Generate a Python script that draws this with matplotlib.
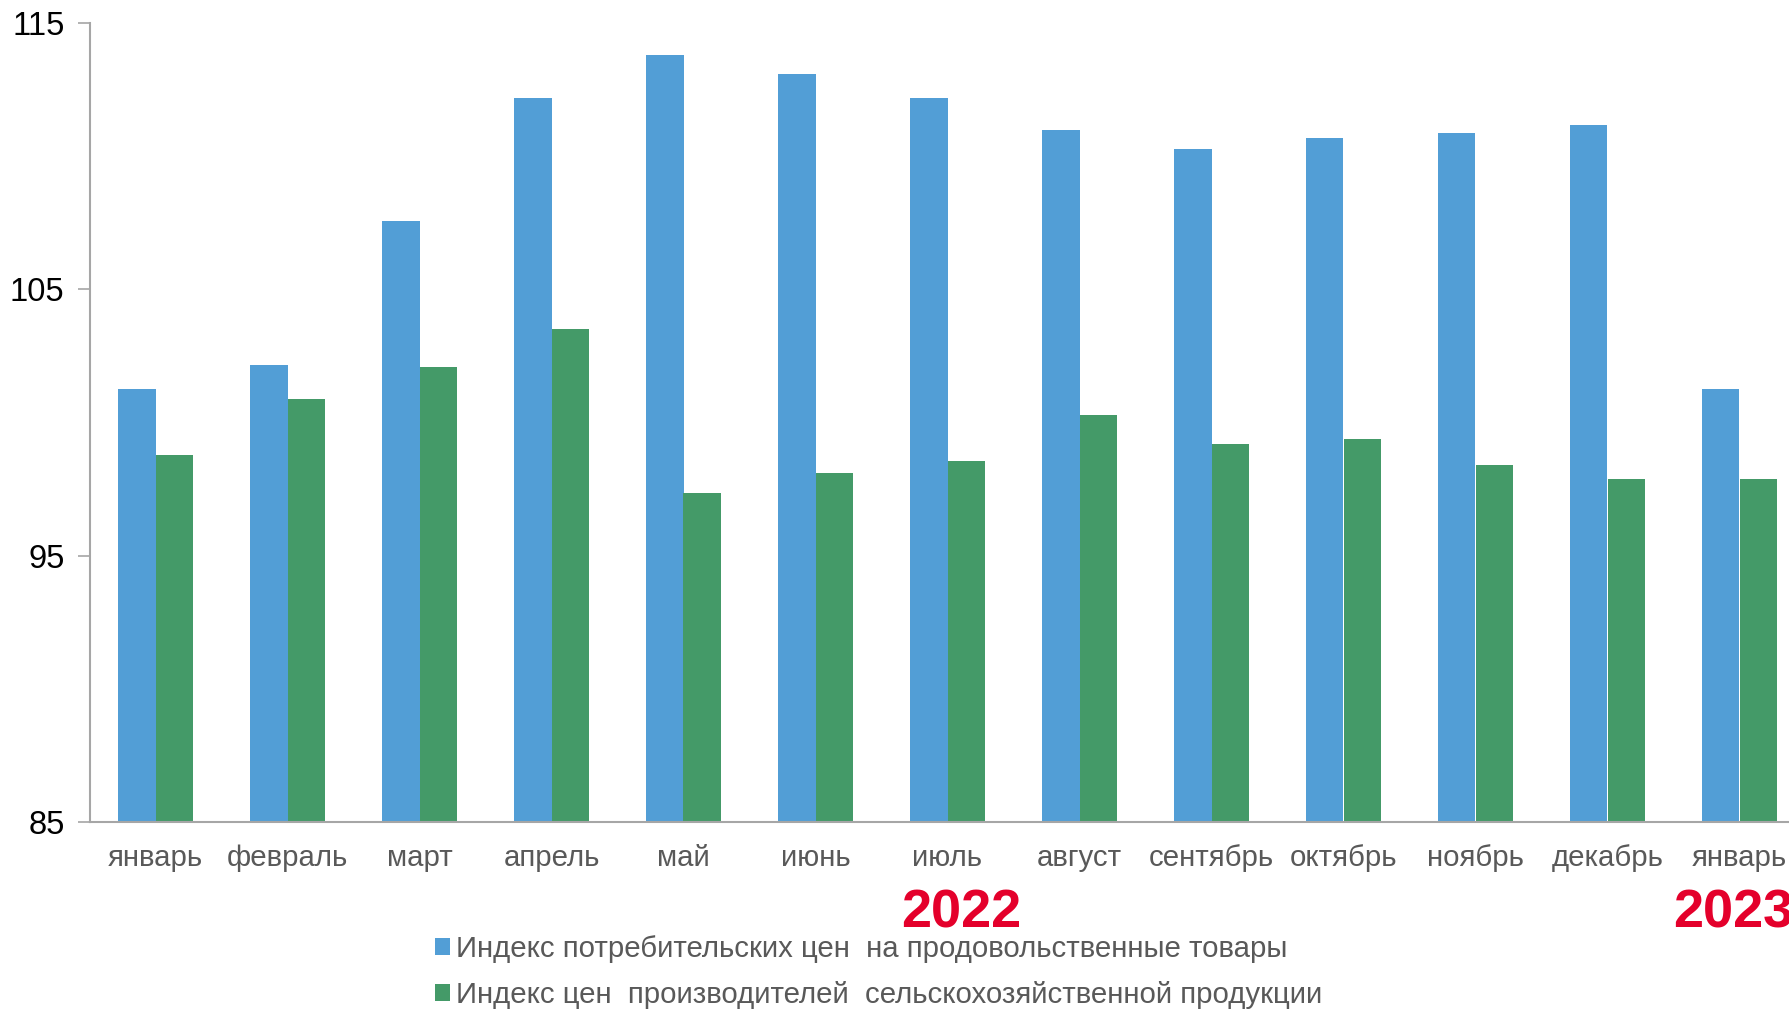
import matplotlib
matplotlib.use("Agg")
import matplotlib.pyplot as plt
import matplotlib.transforms as mtransforms
import numpy as np

months = ["январь", "февраль", "март", "апрель", "май", "июнь", "июль",
          "август", "сентябрь", "октябрь", "ноябрь", "декабрь", "январь"]
cpi_food = [101.27, 102.17, 107.58, 112.17, 113.8, 113.07, 112.17,
            110.97, 110.28, 110.67, 110.88, 111.18, 101.27]
ppi_agri = [98.78, 100.88, 102.08, 103.5, 97.36, 98.09, 98.56,
            100.28, 99.21, 99.38, 98.39, 97.88, 97.88]
series_names = ["Индекс потребительских цен  на продовольственные товары",
                "Индекс цен  производителей  сельскохозяйственной продукции"]
y_ticks = [85, 95, 105, 115]
year_idx = [6, 12]
year_text = ["2022", "2023"]

plt.rcParams['font.family'] = ['Liberation Sans', 'DejaVu Sans']

W, H = 1790, 1010
fig = plt.figure(figsize=(W / 100, H / 100), dpi=100)
left_px, right_px, top_px, bot_px = 89.5, 1805.5, 23, 822
ax = fig.add_axes([left_px / W, 1 - bot_px / H, (right_px - left_px) / W, (bot_px - top_px) / H])

blue = '#529ED6'
green = '#449A68'
x = np.arange(len(months))
w = 37.5 / 132
ax.bar(x - w / 2, np.array(cpi_food) - 85, w, bottom=85, color=blue, label=series_names[0])
ax.bar(x + w / 2, np.array(ppi_agri) - 85, w, bottom=85, color=green, label=series_names[1])

ax.set_xlim(-0.5, len(months) - 0.5)
ax.set_ylim(85, 115)
ax.set_yticks(y_ticks)
ax.set_yticklabels([str(v) for v in y_ticks], fontsize=23.5, color='black')
ax.set_xticks(x)
ax.set_xticklabels(months, fontsize=21.2, color='#595959')
ax.tick_params(axis='x', length=0, pad=16)
ax.tick_params(axis='y', length=9, width=1.2, color='#A6A6A6', pad=9)
for s in ['top', 'right']:
    ax.spines[s].set_visible(False)
for s in ['left', 'bottom']:
    ax.spines[s].set_color('#A6A6A6')
    ax.spines[s].set_linewidth(1.5)

trans = mtransforms.blended_transform_factory(ax.transData, fig.transFigure)
year_shift = [0.1, -0.05]
for idx, lab, dx in zip(year_idx, year_text, year_shift):
    ax.text(idx + dx, 1 - 914 / H, lab, transform=trans, ha='center', va='center',
            fontsize=39, fontweight='bold', color='#E4002B', clip_on=False)

leg = fig.legend(loc='upper left', bbox_to_anchor=(435 / W, 1 - 935 / H),
                 frameon=False, fontsize=21.2, handlelength=0.5, handleheight=0.5,
                 handletextpad=0.22, labelspacing=0.62, borderpad=0, borderaxespad=0)
for t in leg.get_texts():
    t.set_color('#595959')

fig.savefig("out.png", dpi=100)
